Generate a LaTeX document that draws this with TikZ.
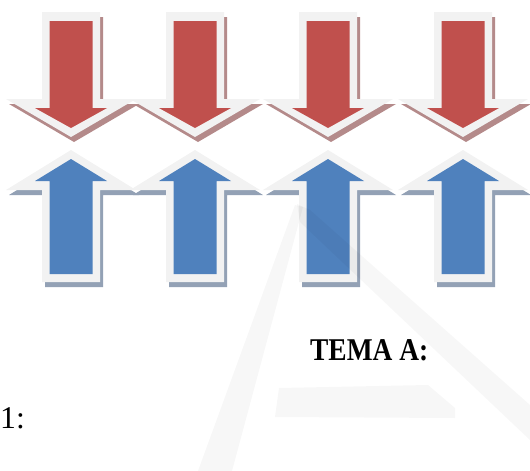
\documentclass[tikz,border=0pt]{standalone}
\usepackage{fontspec}
\setmainfont{Liberation Serif}
\usepackage{xcolor}

\definecolor{arrowred}{HTML}{C0504D}
\definecolor{arrowblue}{HTML}{4F81BD}
\definecolor{rim}{HTML}{F2F2F2}
\definecolor{redshadow}{HTML}{B48A8A}
\definecolor{blueshadow}{HTML}{93A1B5}

\begin{document}
\begin{tikzpicture}[
    x=1pt, y=-1pt,
    rimfill/.style={fill=rim},
    shade off/.style={shift={(3,5)}},
    mark faint/.style={fill=black, opacity=0.03},
    label/.style={anchor=base west, inner sep=0pt, font=\fontsize{31.7}{38}\selectfont}
]
\useasboundingbox (0,0) rectangle (530,471);

% Red arrows pointing down
\foreach \cx in {71,195,328,463} {
  \begin{scope}[shift={(\cx,0)}]
    \fill[redshadow, shade off] (-29,12) -- (29,12) -- (29,99) -- (65,99) -- (0,137) -- (-65,99) -- (-29,99) -- cycle;
    \fill[rimfill] (-29,12) -- (29,12) -- (29,99) -- (65,99) -- (0,137) -- (-65,99) -- (-29,99) -- cycle;
    \fill[arrowred] (-21.5,21) -- (21.5,21) -- (21.5,108) -- (36,108) -- (0,128) -- (-36,108) -- (-21.5,108) -- cycle;
  \end{scope}
}

% Blue arrows pointing up
\foreach \cx in {71,195,328,463} {
  \begin{scope}[shift={(\cx,0)}]
    \fill[blueshadow, shade off] (0,150) -- (65,190) -- (29,190) -- (29,282) -- (-29,282) -- (-29,190) -- (-65,190) -- cycle;
    \fill[rimfill] (0,150) -- (65,190) -- (29,190) -- (29,282) -- (-29,282) -- (-29,190) -- (-65,190) -- cycle;
    \fill[arrowblue] (0,159) -- (36,181) -- (21.5,181) -- (21.5,274) -- (-21.5,274) -- (-21.5,181) -- (-36,181) -- cycle;
  \end{scope}
}

% Faint logo in the background
\fill[mark faint] (295,205) -- (303,207) -- (232,471) -- (198,471) -- cycle;
\fill[mark faint] (297,204) -- (310,210) -- (530,405) -- (530,440) -- (300,222) -- cycle;
\fill[mark faint] (279,388) -- (428,385) -- (455,408) -- (455,418) -- (275,417) -- cycle;

% Labels
\node[label, font=\bfseries\fontsize{31.7}{38}\selectfont] (tema) at (310,360) {\scalebox{0.865}[1]{TEMA A:}};
\node[label] (num) at (0,428) {1:};

\end{tikzpicture}
\end{document}
